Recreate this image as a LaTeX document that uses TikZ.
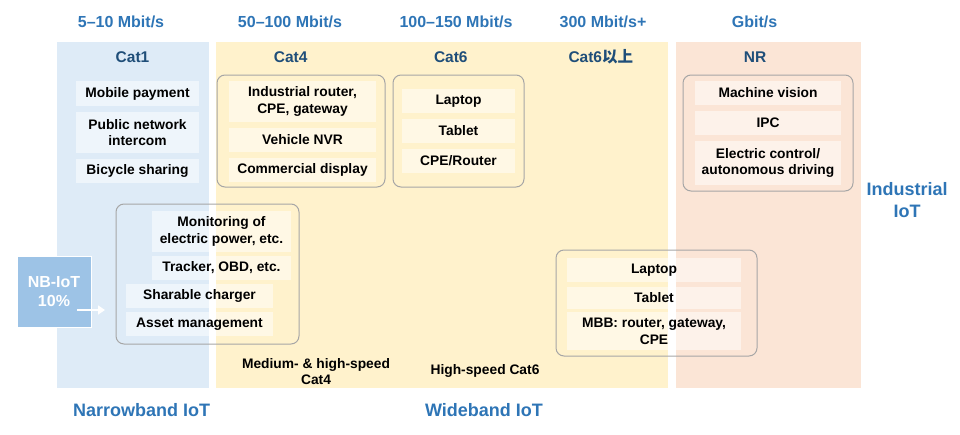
\documentclass[tikz,border=0pt]{standalone}
\usepackage{fontspec}
\setmainfont{Liberation Sans}
\newfontfamily\cjk{Noto Sans CJK SC}
\usetikzlibrary{arrows.meta}
\definecolor{pblue}{HTML}{DEEBF7}
\definecolor{pyellow}{HTML}{FFF2CC}
\definecolor{ppeach}{HTML}{FBE5D6}
\definecolor{speedc}{HTML}{2E75B6}
\definecolor{catc}{HTML}{1F4E79}
\definecolor{grpc}{HTML}{A6A6A6}
\definecolor{nbc}{HTML}{9DC3E6}
\tikzset{
  panel/.style={draw=none, inner sep=0},
  item/.style={fill=white, fill opacity=0.5, text opacity=1, text=black,
    font=\fontsize{13.8}{16.7}\selectfont\bfseries, align=center, inner sep=0},
  grp/.style={draw=grpc, rounded corners=8, line width=1, inner sep=0},
  plain/.style={text=black, font=\fontsize{13.8}{16.7}\selectfont\bfseries, align=center, inner sep=0},
  speed/.style={text=speedc, font=\fontsize{16}{19}\selectfont\bfseries, inner sep=0},
  catl/.style={text=catc, font=\fontsize{15.5}{18}\selectfont\bfseries, inner sep=0},
  big/.style={text=speedc, font=\fontsize{18}{22}\selectfont\bfseries, align=center, inner sep=0},
}
\begin{document}
\begin{tikzpicture}[x=1pt,y=-1pt]
\useasboundingbox (0,0) rectangle (960,434);
% panels
\node[panel, fill=pblue, minimum width=152, minimum height=346] (pcat1) at (133,215) {};
\node[panel, fill=pyellow, minimum width=452, minimum height=346] (pwide) at (442,215) {};
\node[panel, fill=ppeach, minimum width=185, minimum height=346] (pnr) at (768.5,215) {};
% speed labels
\node[speed] (s1) at (121,22) {5–10 Mbit/s};
\node[speed] (s2) at (290,22) {50–100 Mbit/s};
\node[speed] (s3) at (456,22) {100–150 Mbit/s};
\node[speed] (s4) at (603,22) {300 Mbit/s+};
\node[speed] (s5) at (754.5,22) {Gbit/s};
% category labels
\node[catl] (c1) at (132.5,57) {Cat1};
\node[catl] (c4) at (290.7,57) {Cat4};
\node[catl] (c6) at (450.8,57) {Cat6};
\node[catl] (c6p) at (600.8,57) {Cat6{\cjk\bfseries 以上}};
\node[catl] (cnr) at (755,57) {NR};
% group boxes
\node[grp, minimum width=168, minimum height=112] (g4) at (301,131) {};
\node[grp, minimum width=131, minimum height=112] (g6) at (458.5,131) {};
\node[grp, minimum width=170, minimum height=116] (gnr) at (768,133) {};
\node[grp, minimum width=183, minimum height=140] (gnb) at (207.5,274) {};
\node[grp, minimum width=201, minimum height=106] (g6p) at (656.5,303) {};
% Cat1 items
\node[item, minimum width=123, minimum height=25] (mp) at (137.5,93.5) {Mobile payment};
\node[item, minimum width=123, minimum height=41] (pni) at (137.5,132.5) {Public network\\intercom};
\node[item, minimum width=123, minimum height=24] (bs) at (137.5,171) {Bicycle sharing};
% Cat4 items
\node[item, minimum width=147, minimum height=41] (ir) at (302.5,101.5) {Industrial router,\\CPE, gateway};
\node[item, minimum width=147, minimum height=24] (nvr) at (302.5,140) {Vehicle NVR};
\node[item, minimum width=147, minimum height=24] (cd) at (302.5,170) {Commercial display};
% Cat6 items
\node[item, minimum width=113, minimum height=24] (lp1) at (458.5,101) {Laptop};
\node[item, minimum width=113, minimum height=24] (tb1) at (458.5,131) {Tablet};
\node[item, minimum width=113, minimum height=24] (cpe) at (458.5,161) {CPE/Router};
% NR items
\node[item, minimum width=146, minimum height=24] (mv) at (768,93) {Machine vision};
\node[item, minimum width=146, minimum height=24] (ipc) at (768,123) {IPC};
\node[item, minimum width=146, minimum height=44] (ec) at (768,163) {Electric control/\\autonomous driving};
% NB items
\node[item, minimum width=139, minimum height=41] (mon) at (221.5,231.5) {Monitoring of\\electric power, etc.};
\node[item, minimum width=139, minimum height=24] (trk) at (221.5,268) {Tracker, OBD, etc.};
\node[item, minimum width=147, minimum height=24] (shc) at (199.5,296) {Sharable charger};
\node[item, minimum width=147, minimum height=24] (asm) at (199.5,324) {Asset management};
% Cat6+ items
\node[item, minimum width=174, minimum height=24] (lp2) at (654,270) {Laptop};
\node[item, minimum width=174, minimum height=22] (tb2) at (654,298) {Tablet};
\node[item, minimum width=174, minimum height=38] (mbb) at (654,331) {MBB: router, gateway,\\CPE};
% NB-IoT box and arrow
\node[draw=white, line width=1, fill=nbc, minimum width=74, minimum height=71, inner sep=0,
  text=white, font=\fontsize{16}{19}\selectfont\bfseries, align=center] (nb) at (54,291.5) {NB-IoT\\10\%};
\coordinate (nbA) at (77,310);
\coordinate (nbB) at (105,310);
\draw[white, line width=2, -{Triangle[length=7,width=9]}] (nbA) -- (nbB);
% plain labels
\node[plain] (mhs) at (316,371.5) {Medium- \& high-speed\\Cat4};
\node[plain] (hs6) at (485,371) {High-speed Cat6};
% bottom / side labels
\node[big] (nbiot) at (141.7,410) {Narrowband IoT};
\node[big] (wbiot) at (484,410) {Wideband IoT};
\node[big] (iiot) at (907,200) {Industrial\\IoT};
\end{tikzpicture}
\end{document}
